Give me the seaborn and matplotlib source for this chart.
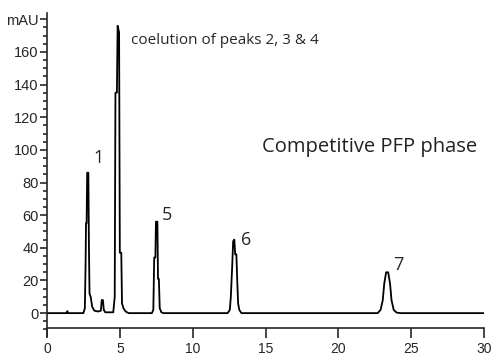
import matplotlib
matplotlib.use("Agg")
import matplotlib.pyplot as plt
import seaborn as sns
from matplotlib.ticker import MultipleLocator

# =========================
# Dados (lidos do cromatograma)
# =========================

time_min = [0, 1.35, 1.4, 1.45, 2.5, 2.6, 2.65, 2.68, 2.72, 2.76, 2.84, 2.88, 2.92,
            3.0, 3.1, 3.25, 3.5, 3.7, 3.76, 3.84, 3.9, 4.0, 4.55, 4.65, 4.7, 4.8,
            4.85, 4.95, 5.0, 5.1, 5.15, 5.25, 5.4, 5.6,
            7.2, 7.3, 7.36, 7.44, 7.48, 7.58, 7.62, 7.68, 7.74, 7.85, 8.0,
            12.4, 12.55, 12.62, 12.67, 12.72, 12.78, 12.86, 12.92, 13.0, 13.06,
            13.12, 13.2, 13.35,
            22.7, 22.9, 23.05, 23.15, 23.28, 23.42, 23.55, 23.65, 23.8, 24.0,
            24.3, 30]
signal_mau = [0, 0, 1.2, 0, 0, 3, 30, 55, 55, 86, 86, 40, 12,
              10, 4, 1.5, 1, 1.5, 8, 8, 2, 0.5, 0.5, 10, 135, 135,
              176, 172, 37, 37, 6, 3, 1, 0,
              0, 2, 34, 34, 56, 56, 21, 21, 3, 0.5, 0,
              0, 2, 10, 20, 30, 44, 45, 36, 36, 20,
              6, 2, 0,
              0, 2, 8, 18, 25, 25, 18, 8, 2, 0.3,
              0, 0]

peak_labels = ["1", "5", "6", "7"]
peak_label_x = [3.2, 7.9, 13.3, 23.75]
peak_label_y = [95, 60, 45, 29.5]

y_ticks = [0, 20, 40, 60, 80, 100, 120, 140, 160, 180]
y_tick_labels = ["0", "20", "40", "60", "80", "100", "120", "140", "160", "mAU"]
x_ticks = [0, 5, 10, 15, 20, 25, 30]

# =========================
# Figura
# =========================

sns.set_style("ticks")
plt.rcParams["font.family"] = ["Liberation Sans Narrow", "Liberation Sans", "DejaVu Sans"]

fig = plt.figure(figsize=(4.94, 3.58), dpi=100)
ax = fig.add_axes([0.0951, 0.0615, 0.8847, 0.903])

sns.lineplot(x=time_min, y=signal_mau, color="black", linewidth=1.3, ax=ax)

ax.set_xlim(0, 30)
ax.set_ylim(-14, 184)

for s in ["top", "right"]:
    ax.spines[s].set_visible(False)
ax.spines["bottom"].set_position(("data", -9))
ax.spines["bottom"].set_linewidth(1.2)
ax.spines["left"].set_linewidth(1.2)

ax.set_xticks(x_ticks)
ax.set_yticks(y_ticks)
ax.set_yticklabels(y_tick_labels)
ax.yaxis.set_minor_locator(MultipleLocator(5))
ax.tick_params(axis="y", which="major", length=5, width=1.2, labelsize=10.5, pad=1)
ax.tick_params(axis="y", which="minor", length=3, width=1.2)
ax.tick_params(axis="x", which="major", length=7, width=1.2, labelsize=10, pad=3.5)
for lbl in ax.get_xticklabels():
    lbl.set_family(["Liberation Sans", "DejaVu Sans"])

for txt, xx, yy in zip(peak_labels, peak_label_x, peak_label_y):
    ax.text(xx, yy, txt, fontsize=13, family=["Open Sans", "DejaVu Sans"],
            ha="left", va="center")

ax.text(5.8, 167, "coelution of peaks 2, 3 & 4", fontsize=11,
        family=["Open Sans", "DejaVu Sans"], ha="left", va="center")
ax.text(14.75, 102, "Competitive PFP phase", fontsize=14.5,
        family=["Open Sans", "DejaVu Sans"], ha="left", va="center", color="#222222")

ax.set_xlabel("")
ax.set_ylabel("")

plt.savefig("out.png", dpi=100)
